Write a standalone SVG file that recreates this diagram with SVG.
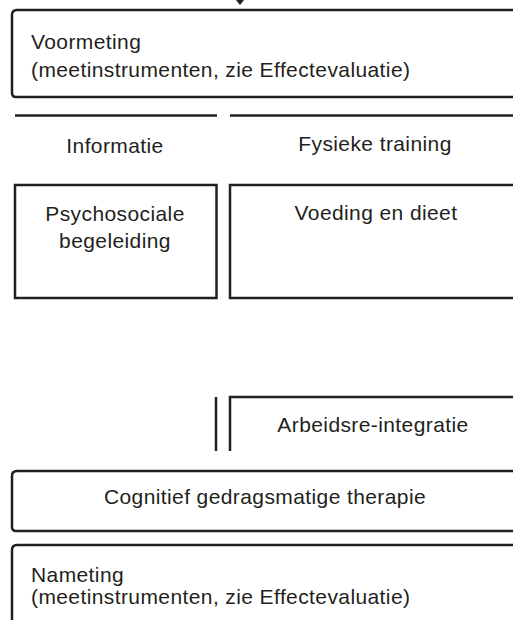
<svg xmlns="http://www.w3.org/2000/svg" width="513" height="620" viewBox="0 0 513 620">
<style>
.b{fill:none;stroke:#231f20;stroke-width:2.5}
.t{font-family:"Liberation Sans",Arial,sans-serif;font-size:21px;letter-spacing:0.4px;fill:#231f20}
.c{text-anchor:middle}
</style>
<rect width="513" height="620" fill="#fff"/>
<g id="connectors">
<polygon points="236,0 244,0 240,5" fill="#231f20"/>
</g>
<g id="voormeting">
<path class="b" d="M520,10 H17 Q12,10 12,15 V93 Q12,97 16,97 H520"/>
<text class="t" x="31" y="49">Voormeting</text>
<text class="t" x="31" y="77">(meetinstrumenten, zie Effectevaluatie)</text>
</g>
<g id="informatie">
<line class="b" x1="15" y1="115.5" x2="217" y2="115.5"/>
<text class="t c" x="115" y="153">Informatie</text>
</g>
<g id="fysieke-training">
<line class="b" x1="230" y1="115.5" x2="520" y2="115.5"/>
<text class="t c" x="375" y="151">Fysieke training</text>
</g>
<g id="psychosociale">
<rect class="b" x="15" y="185" width="201.5" height="113"/>
<text class="t c" x="115" y="221">Psychosociale</text>
<text class="t c" x="115" y="248">begeleiding</text>
</g>
<g id="voeding">
<path class="b" d="M520,185 H230 V298 H520"/>
<text class="t c" x="376" y="220">Voeding en dieet</text>
</g>
<g id="left-bar">
<line class="b" x1="216" y1="397" x2="216" y2="451"/>
</g>
<g id="arbeidsre-integratie">
<path class="b" d="M230,451 V397 H520"/>
<text class="t c" x="373" y="432">Arbeidsre-integratie</text>
</g>
<g id="cognitief">
<path class="b" d="M520,471 H17 Q12,471 12,476 V527 Q12,531 16,531 H520"/>
<text class="t c" x="265" y="504">Cognitief gedragsmatige therapie</text>
</g>
<g id="nameting">
<path class="b" d="M520,545 H17 Q12,545 12,550 V625"/>
<text class="t" x="31" y="582">Nameting</text>
<text class="t" x="31" y="604">(meetinstrumenten, zie Effectevaluatie)</text>
</g>
</svg>
